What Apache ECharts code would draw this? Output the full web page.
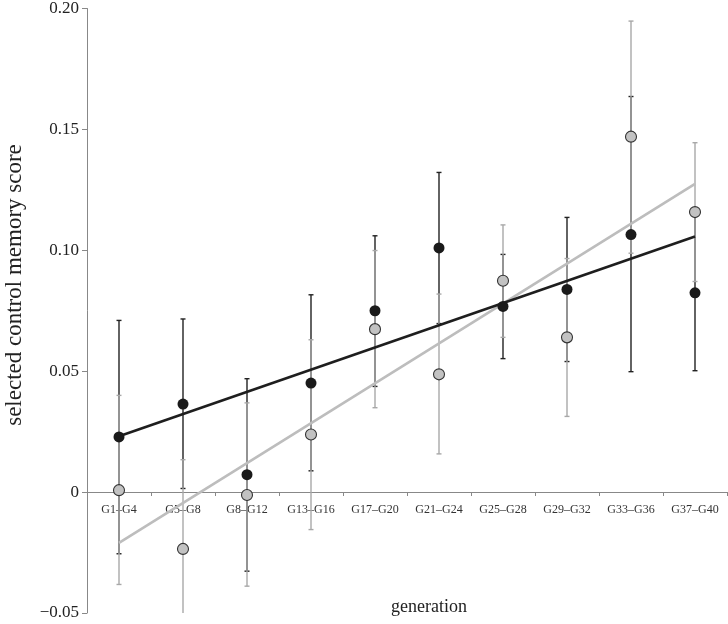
<!DOCTYPE html>
<html>
<head>
<meta charset="utf-8">
<script src="https://cdn.jsdelivr.net/npm/echarts@6/dist/echarts.min.js"></script>
<style>
html,body{margin:0;padding:0;background:#fff;}
#chart{width:728px;height:624px;}
</style>
</head>
<body>
<div id="chart"></div>
<script>
var categories = ['G1–G4','G5–G8','G8–G12','G13–G16','G17–G20','G21–G24','G25–G28','G29–G32','G33–G36','G37–G40'];
var blackMean = [0.0228, 0.0364, 0.0072, 0.0451, 0.0750, 0.1010, 0.0768, 0.0838, 0.1065, 0.0824];
var blackLow  = [-0.0255, 0.0015, -0.0327, 0.0088, 0.0437, 0.0697, 0.0552, 0.0540, 0.0498, 0.0502];
var blackHigh = [0.0710, 0.0716, 0.0469, 0.0816, 0.1060, 0.1322, 0.0983, 0.1136, 0.1636, 0.1146];
var grayMean  = [0.0008, -0.0235, -0.0012, 0.0238, 0.0674, 0.0487, 0.0874, 0.0640, 0.1470, 0.1158];
var grayLow   = [-0.0382, -0.0604, -0.0389, -0.0155, 0.0349, 0.0158, 0.0640, 0.0313, 0.0988, 0.0871];
var grayHigh  = [0.0400, 0.0134, 0.0369, 0.0630, 0.0999, 0.0819, 0.1105, 0.0966, 0.1948, 0.1445];
var blackTrend = [0.0231, 0.1057];
var grayTrend = [-0.0210, 0.1275];
var yTicks = [-0.05, 0, 0.05, 0.10, 0.15, 0.20];
var xTitle = 'generation';
var yTitle = 'selected control memory score';

var FONT = '"Liberation Serif", "DejaVu Serif", serif';
var GRID_TOP = 8, GRID_BOTTOM = 11, CHART_H = 624;
var plotH = CHART_H - GRID_TOP - GRID_BOTTOM;
var yMin = yTicks[0], yMax = yTicks[yTicks.length - 1];
// move category axis (with its labels) up to the zero line
var xAxisOffset = -plotH * (0 - yMin) / (yMax - yMin);

function barData(low, high) {
  return categories.map(function (c, i) { return [i, low[i], high[i]]; });
}
function pointData(mean) {
  return categories.map(function (c, i) { return [c, mean[i]]; });
}
function trendData(t) {
  return [[categories[0], t[0]], [categories[categories.length - 1], t[1]]];
}

function makeErrRender(color) {
  return function (params, api) {
    var x = api.value(0);
    var lo = api.coord([x, api.value(1)]);
    var hi = api.coord([x, api.value(2)]);
    var cs = params.coordSys;
    var top = cs.y, bottom = cs.y + cs.height;
    var yLo = lo[1], yHi = hi[1];
    var capLo = true, capHi = true;
    if (yLo > bottom) { yLo = bottom; capLo = false; }
    if (yHi < top) { yHi = top; capHi = false; }
    var w = 2.5;
    var style = { stroke: color, lineWidth: 1.4, fill: null };
    var children = [
      { type: 'line', shape: { x1: lo[0], y1: yLo, x2: hi[0], y2: yHi }, style: style }
    ];
    if (capLo) children.push({ type: 'line', shape: { x1: lo[0] - w, y1: yLo, x2: lo[0] + w, y2: yLo }, style: style });
    if (capHi) children.push({ type: 'line', shape: { x1: hi[0] - w, y1: yHi, x2: hi[0] + w, y2: yHi }, style: style });
    return { type: 'group', children: children };
  };
}

var chart = echarts.init(document.getElementById('chart'), null, { renderer: 'canvas' });
chart.setOption({
  animation: false,
  backgroundColor: '#ffffff',
  grid: { left: 87, right: 1, top: GRID_TOP, bottom: GRID_BOTTOM, containLabel: false },
  graphic: [
    {
      type: 'text',
      position: [429, 607],
      style: { text: xTitle, font: '18px "Liberation Serif", serif', fill: '#222', textAlign: 'center', textVerticalAlign: 'middle' }
    },
    {
      type: 'text',
      position: [15, 285],
      rotation: Math.PI / 2,
      style: { text: yTitle, font: '23px "Liberation Serif", serif', fill: '#222', textAlign: 'center', textVerticalAlign: 'middle' }
    }
  ],
  xAxis: {
    type: 'category',
    data: categories,
    boundaryGap: true,
    position: 'bottom',
    offset: xAxisOffset,
    axisLine: { onZero: false, lineStyle: { color: '#888', width: 1 } },
    axisTick: { show: true, length: 4, inside: false, lineStyle: { color: '#888' } },
    axisLabel: { fontFamily: FONT, fontSize: 12, color: '#333', margin: 12, interval: 0 },
    splitLine: { show: false }
  },
  yAxis: {
    type: 'value',
    min: yMin,
    max: yMax,
    interval: 0.05,
    axisLine: { show: true, lineStyle: { color: '#888', width: 1 } },
    axisTick: { show: true, length: 5, inside: false, lineStyle: { color: '#888' } },
    axisLabel: {
      fontFamily: FONT, fontSize: 17, color: '#222', margin: 8,
      formatter: function (v) {
        var r = Math.round(v * 100) / 100;
        if (r === 0) return '0';
        return (r < 0 ? '\u2212' : '') + Math.abs(r).toFixed(2);
      }
    },
    splitLine: { show: false }
  },
  series: [
    {
      type: 'custom',
      name: 'blackErr',
      renderItem: makeErrRender('#222222'),
      encode: { x: 0, y: [1, 2] },
      data: barData(blackLow, blackHigh),
      z: 2
    },
    {
      type: 'custom',
      name: 'grayErr',
      renderItem: makeErrRender('#a8a8a8'),
      encode: { x: 0, y: [1, 2] },
      data: barData(grayLow, grayHigh),
      z: 3
    },
    {
      type: 'line',
      name: 'grayTrend',
      data: trendData(grayTrend),
      symbol: 'none',
      lineStyle: { color: '#bdbdbd', width: 2.6 },
      z: 4
    },
    {
      type: 'line',
      name: 'blackTrend',
      data: trendData(blackTrend),
      symbol: 'none',
      lineStyle: { color: '#1e1e1e', width: 2.6 },
      z: 5
    },
    {
      type: 'scatter',
      name: 'grayPts',
      data: pointData(grayMean),
      symbol: 'circle',
      symbolSize: 11,
      itemStyle: { color: '#c2c2c2', borderColor: '#333', borderWidth: 1.1, opacity: 1 },
      z: 6
    },
    {
      type: 'scatter',
      name: 'blackPts',
      data: pointData(blackMean),
      symbol: 'circle',
      symbolSize: 11,
      itemStyle: { color: '#1a1a1a', opacity: 1 },
      z: 7
    }
  ]
});
</script>
</body>
</html>
